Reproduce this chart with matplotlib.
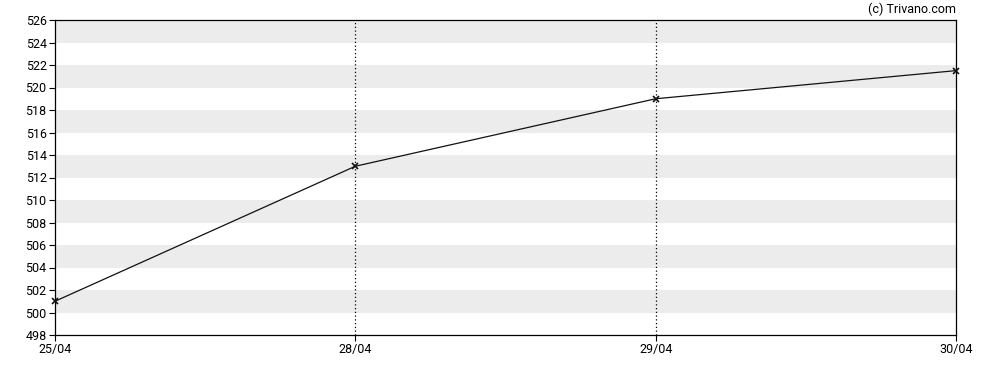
import matplotlib
matplotlib.use("Agg")
import matplotlib.pyplot as plt

dates = ["25/04", "28/04", "29/04", "30/04"]
values = [501.0, 513.0, 519.0, 521.5]
yticks = list(range(498, 527, 2))

plt.rcParams['font.family'] = ['Roboto', 'DejaVu Sans']
plt.rcParams['font.size'] = 9

fig = plt.figure(figsize=(9.88, 3.70), dpi=100)
ax = fig.add_axes([55/988, 1 - 335/370, (956-55)/988, (335-20)/370])

x = list(range(len(dates)))
for lo in range(500, 526, 4):
    ax.axhspan(lo, lo + 2, color="#ececec", lw=0, zorder=0)
for xi in x[1:-1]:
    ax.axvline(xi, color="black", ls=(0, (1, 2)), lw=0.9, zorder=1)

ax.plot(x, values, color="#111111", lw=0.9, marker="x", ms=4, mew=1.2,
        zorder=3, clip_on=False)

ax.set_xlim(0, len(dates) - 1)
ax.set_ylim(498, 526)
ax.set_yticks(yticks)
ax.set_xticks(x)
ax.set_xticklabels(dates)
ax.tick_params(direction="out", length=4, width=0.8, colors="black", labelsize=9)
ax.tick_params(axis="y", pad=2)
ax.tick_params(axis="x", pad=2)
for s in ax.spines.values():
    s.set_linewidth(0.9)
    s.set_color("black")

fig.text(956/988, 1 - 9/370, "(c) Trivano.com", ha="right", va="center", fontsize=9)

fig.savefig("out.png", dpi=100)
